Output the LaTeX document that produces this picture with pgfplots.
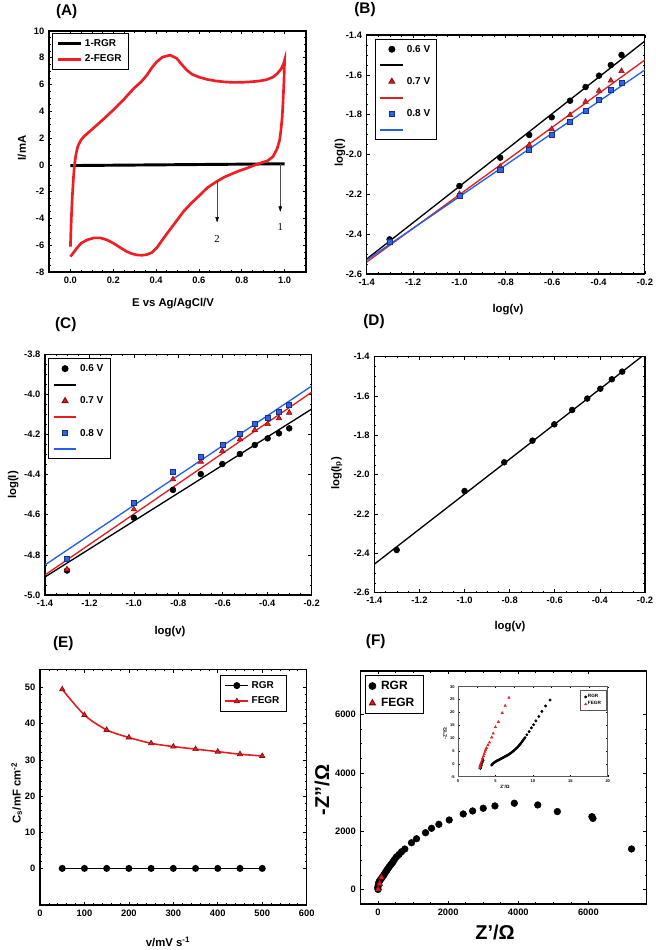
\documentclass[border=0pt]{standalone}
\usepackage{fontspec}
\setmainfont{Liberation Sans}
\newfontfamily\seriffont{Liberation Serif}
\usepackage{pgfplots}
\pgfplotsset{compat=1.18}
\usetikzlibrary{arrows.meta}
\definecolor{cvred}{RGB}{240,30,36}
\definecolor{mred}{RGB}{228,30,30}
\definecolor{dred}{RGB}{140,10,10}
\definecolor{mblue}{RGB}{45,100,230}
\definecolor{dblue}{RGB}{20,50,140}
\definecolor{lblue}{RGB}{35,95,235}

\pgfplotsset{
  base/.style={
    scale only axis, anchor=south west,
    tick align=inside,
    major tick length=2.5pt, minor tick length=1.3pt,
    tick style={black, line width=0.5pt},
    axis line style={line width=0.8pt},
    tick label style={font=\bfseries\fontsize{7}{8}\selectfont},
    /pgf/number format/assume math mode=true,
    /pgf/number format/1000 sep={},
    legend cell align=left,
  },
  logv/.style={xmin=-1.4, xmax=-0.2, xtick={-1.4,-1.2,-1.0,-0.8,-0.6,-0.4,-0.2},
    minor x tick num=3, minor y tick num=3,
    xticklabel style={/pgf/number format/.cd, fixed, fixed zerofill, precision=1},
    yticklabel style={/pgf/number format/.cd, fixed, fixed zerofill, precision=1}},
  bleg/.style={legend style={at={(#1)}, anchor=north west,
    font=\bfseries\fontsize{7.5}{9}\selectfont, draw=black, line width=0.8pt,
    row sep=1.6pt, nodes={text height=5.5pt, text depth=1pt}}},
}
\newcommand{\lbl}{\bfseries\fontsize{8.5}{10}\selectfont}
\newcommand{\plbl}{\bfseries\fontsize{11.5}{13}\selectfont}

\begin{document}
\begin{tikzpicture}
\path[use as bounding box] (0,0) rectangle (492pt,-712.5pt);

% ---------------- (A)
\begin{axis}[base, at={(36.75pt,-204pt)}, width=192.75pt, height=180.75pt,
  xmin=-0.1, xmax=1.1, ymin=-8, ymax=10,
  xtick={0,0.2,0.4,0.6,0.8,1.0}, ytick={-8,-6,-4,-2,0,2,4,6,8,10},
  minor x tick num=3, minor y tick num=3,
  xticklabel style={/pgf/number format/.cd, fixed, fixed zerofill, precision=1},
  legend style={at={(0.012,0.99)}, anchor=north west,
    font=\bfseries\fontsize{7.5}{9}\selectfont, draw=black, line width=0.8pt, row sep=1pt},
]
\addplot[black, line width=2.2pt] coordinates {(0,-0.05) (1,0.08)};
\addlegendentry{1-RGR}
\addplot[cvred, line width=2pt] coordinates {
(0,-6.1) (0.003,-4.5) (0.008,-2.6) (0.014,-1.0) (0.019,0) (0.026,0.8) (0.034,1.36) (0.047,1.8)
(0.062,2.1) (0.09,2.5) (0.124,2.98) (0.16,3.5) (0.2,4.1) (0.25,4.9) (0.295,5.7) (0.33,6.2)
(0.357,6.7) (0.38,7.25) (0.403,7.7) (0.43,8.05) (0.465,8.2) (0.496,7.96) (0.52,7.5) (0.543,7.08)
(0.57,6.75) (0.605,6.53) (0.64,6.38) (0.682,6.26) (0.72,6.2) (0.76,6.16) (0.8,6.17) (0.837,6.2)
(0.88,6.26) (0.915,6.36) (0.945,6.55) (0.965,6.8) (0.983,7.15) (0.995,7.55) (1.0,7.83)
(0.997,6.2) (0.993,4.8) (0.989,3.6) (0.983,2.6) (0.977,1.86) (0.965,1.2) (0.946,0.62) (0.92,0.3)
(0.884,0.12) (0.85,-0.08) (0.822,-0.26) (0.79,-0.43) (0.76,-0.63) (0.72,-0.9) (0.682,-1.25)
(0.64,-1.7) (0.605,-2.25) (0.565,-2.85) (0.527,-3.5) (0.49,-4.3) (0.45,-5.15) (0.425,-5.7)
(0.403,-6.2) (0.38,-6.55) (0.357,-6.7) (0.335,-6.75) (0.31,-6.73) (0.285,-6.62) (0.264,-6.48)
(0.235,-6.2) (0.202,-5.86) (0.17,-5.6) (0.14,-5.45) (0.11,-5.45) (0.078,-5.6) (0.05,-5.85)
(0.031,-6.2) (0.012,-6.6) (0,-6.85)};
\addlegendentry{2-FEGR}
\draw[gray!60!black, line width=0.4pt, -{Triangle[length=4pt,width=2.6pt,black]}] (axis cs:0.685,-1.25) -- (axis cs:0.685,-4.3);
\draw[gray!60!black, line width=0.4pt, -{Triangle[length=4pt,width=2.6pt,black]}] (axis cs:0.98,0.05) -- (axis cs:0.98,-3.5);
\node[font=\seriffont\fontsize{8}{9}\selectfont] at (axis cs:0.685,-5.55) {2};
\node[font=\seriffont\fontsize{8}{9}\selectfont] at (axis cs:0.98,-4.6) {1};
\end{axis}

% ---------------- (B)
\begin{axis}[base, logv, at={(275pt,-205.5pt)}, width=208.7pt, height=179.25pt,
  ymin=-2.6, ymax=-1.4, ytick={-2.6,-2.4,-2.2,-2.0,-1.8,-1.6,-1.4}, bleg={0.03,0.983}]
\addlegendimage{only marks, mark=*, black, mark size=2.2pt}\addlegendentry{0.6 V}
\addlegendimage{black, line width=1.4pt}\addlegendentry{}
\addlegendimage{only marks, mark=triangle*, mark size=2.4pt, draw=dred, fill=mred}\addlegendentry{0.7 V}
\addlegendimage{mred, line width=1.4pt}\addlegendentry{}
\addlegendimage{only marks, mark=square*, mark size=1.9pt, draw=dblue, fill=mblue}\addlegendentry{0.8 V}
\addlegendimage{lblue, line width=1.4pt}\addlegendentry{}
\addplot[black, line width=1pt] coordinates {(-1.4,-2.525) (-0.2,-1.43)};
\addplot[mred, line width=1pt] coordinates {(-1.4,-2.54) (-0.2,-1.525)};
\addplot[lblue, line width=1pt] coordinates {(-1.4,-2.53) (-0.2,-1.575)};
\addplot[only marks, mark=*, black, mark size=2.2pt] coordinates {(-1.301,-2.426) (-1.0,-2.158) (-0.824,-2.016) (-0.699,-1.902) (-0.602,-1.813) (-0.523,-1.730) (-0.456,-1.661) (-0.398,-1.604) (-0.347,-1.551) (-0.301,-1.500)};
\addplot[only marks, mark=triangle*, mark size=2.4pt, draw=dred, fill=mred] coordinates {(-1.301,-2.438) (-1.0,-2.198) (-0.824,-2.061) (-0.699,-1.952) (-0.602,-1.873) (-0.523,-1.802) (-0.456,-1.735) (-0.398,-1.680) (-0.347,-1.629) (-0.301,-1.581)};
\addplot[only marks, mark=square*, mark size=1.9pt, draw=dblue, fill=mblue] coordinates {(-1.301,-2.440) (-1.0,-2.205) (-0.824,-2.078) (-0.699,-1.974) (-0.602,-1.902) (-0.523,-1.835) (-0.456,-1.780) (-0.398,-1.726) (-0.347,-1.676) (-0.301,-1.638)};
\end{axis}

% ---------------- (C)
\begin{axis}[base, logv, at={(33.75pt,-446.25pt)}, width=200pt, height=180.5pt,
  ymin=-5.0, ymax=-3.8, ytick={-5.0,-4.8,-4.6,-4.4,-4.2,-4.0,-3.8}, bleg={0.012,0.983}]
\addlegendimage{only marks, mark=*, black, mark size=2.2pt}\addlegendentry{0.6 V}
\addlegendimage{black, line width=1.4pt}\addlegendentry{}
\addlegendimage{only marks, mark=triangle*, mark size=2.4pt, draw=dred, fill=mred}\addlegendentry{0.7 V}
\addlegendimage{mred, line width=1.4pt}\addlegendentry{}
\addlegendimage{only marks, mark=square*, mark size=1.9pt, draw=dblue, fill=mblue}\addlegendentry{0.8 V}
\addlegendimage{lblue, line width=1.4pt}\addlegendentry{}
\addplot[black, line width=1pt] coordinates {(-1.4,-4.91) (-0.2,-4.073)};
\addplot[mred, line width=1pt] coordinates {(-1.4,-4.90) (-0.2,-3.989)};
\addplot[lblue, line width=1pt] coordinates {(-1.4,-4.85) (-0.2,-3.958)};
\addplot[only marks, mark=*, black, mark size=2.2pt] coordinates {(-1.301,-4.878) (-1.0,-4.615) (-0.824,-4.476) (-0.699,-4.397) (-0.602,-4.347) (-0.523,-4.297) (-0.456,-4.252) (-0.398,-4.219) (-0.347,-4.194) (-0.301,-4.169)};
\addplot[only marks, mark=triangle*, mark size=2.4pt, draw=dred, fill=mred] coordinates {(-1.301,-4.872) (-1.0,-4.573) (-0.824,-4.423) (-0.699,-4.335) (-0.602,-4.282) (-0.523,-4.224) (-0.456,-4.177) (-0.398,-4.147) (-0.347,-4.119) (-0.301,-4.091)};
\addplot[only marks, mark=square*, mark size=1.9pt, draw=dblue, fill=mblue] coordinates {(-1.301,-4.817) (-1.0,-4.540) (-0.824,-4.385) (-0.699,-4.310) (-0.602,-4.252) (-0.523,-4.194) (-0.456,-4.147) (-0.398,-4.114) (-0.347,-4.086) (-0.301,-4.053)};
\end{axis}

% ---------------- (D)
\begin{axis}[base, logv, at={(280.75pt,-444.5pt)}, width=203pt, height=177pt,
  ymin=-2.6, ymax=-1.4, ytick={-2.6,-2.4,-2.2,-2.0,-1.8,-1.6,-1.4}]
\addplot[black, line width=1pt] coordinates {(-1.4,-2.455) (-0.215,-1.4)};
\addplot[only marks, mark=*, black, mark size=2.2pt] coordinates {(-1.301,-2.383) (-1.0,-2.083) (-0.824,-1.937) (-0.699,-1.827) (-0.602,-1.744) (-0.523,-1.671) (-0.456,-1.613) (-0.398,-1.563) (-0.347,-1.515) (-0.301,-1.476)};
\end{axis}

% ---------------- (E)
\begin{axis}[base, at={(30pt,-678.75pt)}, width=200pt, height=176.75pt,
  xmin=0, xmax=600, ymin=-10, ymax=55,
  xtick={0,100,200,300,400,500,600}, ytick={0,10,20,30,40,50},
  minor x tick num=4, minor y tick num=4,
  legend style={at={(0.925,0.975)}, anchor=north east,
    font=\bfseries\fontsize{7.5}{9}\selectfont, draw=black, line width=0.8pt, row sep=1pt},
]
\addplot[black, line width=1.2pt, mark=*, mark size=2pt] coordinates {(50,0.1) (100,0.1) (150,0.1) (200,0.1) (250,0.1) (300,0.1) (350,0.1) (400,0.1) (450,0.1) (500,0.1)};
\addlegendentry{RGR}
\addplot[mred, line width=1.2pt, smooth, mark=triangle*, mark size=2.3pt, mark options={draw=dred, fill=mred, line width=0.5pt}] coordinates {(50,49.5) (100,42.4) (150,38.3) (200,36.2) (250,34.6) (300,33.7) (350,33.0) (400,32.3) (450,31.6) (500,31.1)};
\addlegendentry{FEGR}
\end{axis}

% ---------------- (F)
\begin{axis}[base, at={(270.4pt,-678pt)}, width=214.3pt, height=174.75pt,
  xmin=-500, xmax=7650, ymin=-500, ymax=7500,
  xtick={0,2000,4000,6000}, ytick={0,2000,4000,6000},
  minor x tick num=3, minor y tick num=3,
  legend style={at={(0.014,0.983)}, anchor=north west,
    font=\bfseries\fontsize{9}{10}\selectfont, draw=black, line width=0.8pt, row sep=1pt,
    nodes={inner xsep=4pt}},
]
\addplot[only marks, mark=*, black, mark size=2.5pt] coordinates {
(0,0) (-10,60) (5,130) (15,200) (29,262) (60,320) (97,379) (130,440) (163,492) (190,550) (220,606)
(250,660) (286,722) (320,780) (354,836) (390,890) (429,950) (470,1030) (526,1122) (600,1200)
(669,1294) (763,1387) (954,1604) (1097,1742) (1354,1948) (1525,2100) (1734,2237) (2029,2385)
(2429,2592) (2697,2695) (3000,2788) (3334,2867) (3886,2960) (4554,2902) (5114,2674) (6100,2500)
(6130,2440) (7230,1390)};
\addlegendentry{RGR}
\addplot[only marks, mark=triangle*, mark size=2.5pt, draw=dred, fill=mred] coordinates {(0,5) (45,200) (97,413)};
\addlegendentry{FEGR}
\end{axis}

% ---------------- inset
\begin{axis}[base, at={(343.5pt,-582.5pt)}, width=112.3pt, height=67.5pt,
  axis background/.style={fill=white},
  xmin=0, xmax=20, ymin=-5, ymax=30,
  xtick={0,5,10,15,20}, ytick={-5,0,5,10,15,20,25,30},
  minor x tick num=1, minor y tick num=0,
  major tick length=1.2pt, minor tick length=0.7pt,
  tick style={line width=0.3pt},
  axis line style={line width=0.5pt, gray!70!black},
  tick label style={font=\bfseries\fontsize{3}{3.5}\selectfont},
  xticklabel style={yshift=1pt}, yticklabel style={xshift=1pt},
  legend style={at={(0.99,0.96)}, anchor=north east,
    font=\bfseries\fontsize{3.5}{4}\selectfont, draw=gray!70!black, line width=0.4pt, row sep=0pt,
    nodes={inner sep=0.8pt}},
  legend image code/.code={\draw[mark repeat=2,mark phase=2,#1] plot coordinates {(0cm,0cm) (0.12cm,0cm) (0.24cm,0cm)};},
]
\addplot[only marks, mark=*, black, mark size=0.9pt] coordinates {
(3.0,-1.8) (3.05,-1.2) (3.1,-0.6) (3.15,0) (3.25,0.7) (3.35,1.4)
(4.5,-0.5) (4.6,-0.1) (4.75,0.3) (4.9,0.6) (5.05,0.9) (5.2,1.15) (5.35,1.4) (5.5,1.6) (5.65,1.85)
(5.8,2.05) (5.95,2.3) (6.1,2.5) (6.25,2.75) (6.4,3.0) (6.55,3.25) (6.7,3.5) (6.85,3.8) (7.0,4.1)
(7.15,4.4) (7.3,4.75) (7.45,5.1) (7.6,5.5) (7.75,5.9) (7.9,6.3) (8.05,6.8) (8.2,7.3) (8.35,7.8)
(8.5,8.4) (8.65,9.0) (8.8,9.6) (8.95,10.2) (9.2,11.3) (9.5,12.5) (9.8,14.0) (10.1,15.2) (10.4,16.7)
(10.8,18.4) (11.2,20.4) (11.7,22.5) (12.3,24.8)};
\addlegendentry{RGR}
\addplot[only marks, mark=triangle*, mark size=1pt, mred] coordinates {
(2.9,-1.5) (2.95,-0.8) (3.0,-0.2) (3.1,0.5) (3.2,1.3) (3.3,2.2) (3.4,3.0) (3.5,3.8) (3.6,4.7)
(3.7,5.5) (3.8,6.2) (4.0,7.3) (4.2,8.3) (4.5,10.3) (4.7,11.8) (5.0,14.3) (5.4,16.3) (5.9,19.8)
(6.3,22.6) (6.8,25.7)};
\addlegendentry{FEGR}
\end{axis}

% ---------------- panel letters
\node[font=\plbl] at (50pt,-8.8pt) {(A)};
\node[font=\plbl] at (273.75pt,-7.5pt) {(B)};
\node[font=\plbl] at (49.3pt,-243.75pt) {(C)};
\node[font=\plbl] at (280.5pt,-241.3pt) {(D)};
\node[font=\plbl] at (47.5pt,-482.5pt) {(E)};
\node[font=\plbl] at (281.8pt,-481.3pt) {(F)};

% ---------------- axis labels
\node[font=\lbl] at (129.75pt,-228pt) {E vs Ag/AgCl/V};
\node[font=\lbl, rotate=90] at (16.5pt,-111pt) {I/mA};
\node[font=\lbl] at (381pt,-232.5pt) {log(v)};
\node[font=\lbl, rotate=90] at (255pt,-114.75pt) {log(I)};
\node[font=\lbl] at (127.5pt,-474pt) {log(v)};
\node[font=\lbl, rotate=90] at (10pt,-363.75pt) {log(I)};
\node[font=\lbl] at (382.5pt,-470.25pt) {log(v)};
\node[font=\lbl, rotate=90] at (252.5pt,-355pt) {log(I\textsubscript{p})};
\node[font=\lbl] at (126pt,-706.5pt) {v/mV s\textsuperscript{-1}};
\node[font=\lbl, rotate=90] at (12.5pt,-594.75pt) {C\textsubscript{s}/mF cm\textsuperscript{-2}};
\node[font=\bfseries\fontsize{15}{17}\selectfont] at (371.25pt,-699pt) {Z'/Ω};
\node[font=\bfseries\fontsize{15}{17}\selectfont, rotate=90] at (241.5pt,-592.5pt) {-Z''/Ω};
\node[font=\bfseries\fontsize{3.5}{4}\selectfont] at (378.75pt,-590pt) {Z'/Ω};
\node[font=\bfseries\fontsize{3.5}{4}\selectfont, rotate=90] at (333.75pt,-550pt) {-Z''/Ω};
\end{tikzpicture}
\end{document}
